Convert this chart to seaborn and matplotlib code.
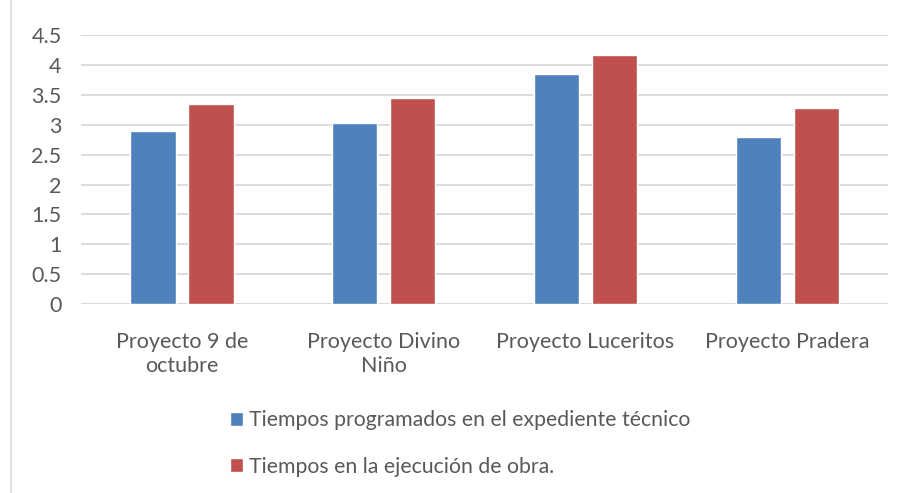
import matplotlib
matplotlib.use("Agg")
import matplotlib.pyplot as plt
import seaborn as sns
import pandas as pd
from matplotlib.patches import Rectangle

proyectos = ["Proyecto 9 de\noctubre", "Proyecto Divino\nNiño",
             "Proyecto Luceritos", "Proyecto Pradera"]
programado = [2.90, 3.03, 3.84, 2.79]
ejecucion = [3.35, 3.44, 4.16, 3.28]
series = ["Tiempos programados en el expediente técnico",
          "Tiempos en la ejecución de obra."]
y_ticks = [0, 0.5, 1, 1.5, 2, 2.5, 3, 3.5, 4, 4.5]
y_labels = ["0", "0.5", "1", "1.5", "2", "2.5", "3", "3.5", "4", "4.5"]

df = pd.DataFrame({
    "proyecto": proyectos * 2,
    "serie": [series[0]] * 4 + [series[1]] * 4,
    "valor": programado + ejecucion,
})

sns.set_theme(style="white")
plt.rcParams["font.family"] = ["Lato", "DejaVu Sans"]
text_color = "#595959"
grid_color = "#D9D9D9"

fig = plt.figure(figsize=(9.1, 4.93), dpi=100)
ax = fig.add_axes([0.089, 0.383, 0.887, 0.546])

sns.barplot(data=df, x="proyecto", y="valor", hue="serie",
            palette=["#4F81BD", "#C0504D"], width=0.575, gap=0.22,
            saturation=1, ax=ax, legend=True)

ax.set_ylim(0, 4.5)
ax.set_xlim(-0.5, 3.5)
ax.set_yticks(y_ticks)
ax.set_yticklabels(y_labels)
ax.set_axisbelow(True)
ax.yaxis.grid(True, color=grid_color, linewidth=1.3)
for s in ax.spines.values():
    s.set_visible(False)
ax.axhline(0, color=grid_color, linewidth=1.3, zorder=0.5)
ax.tick_params(axis="both", length=0, colors=text_color, labelsize=15.5)
ax.tick_params(axis="y", pad=14)
ax.tick_params(axis="x", pad=20)
for t in ax.get_xticklabels():
    t.set_linespacing(1.25)
ax.set_xlabel("")
ax.set_ylabel("")

handles, labels = ax.get_legend_handles_labels()
ax.get_legend().remove()
leg = fig.legend(handles, labels, loc="upper left",
                 bbox_to_anchor=(0.243, 0.185), frameon=False,
                 fontsize=15.3, labelspacing=1.25, handlelength=0.65,
                 handleheight=0.65, handletextpad=0.25, borderaxespad=0)
for t in leg.get_texts():
    t.set_color(text_color)

fig.patches.append(Rectangle((0.012, -0.01), 1.0, 1.02, transform=fig.transFigure,
                             fill=False, edgecolor="#D9D9D9", linewidth=1.2))

fig.savefig("out.png", dpi=100)
